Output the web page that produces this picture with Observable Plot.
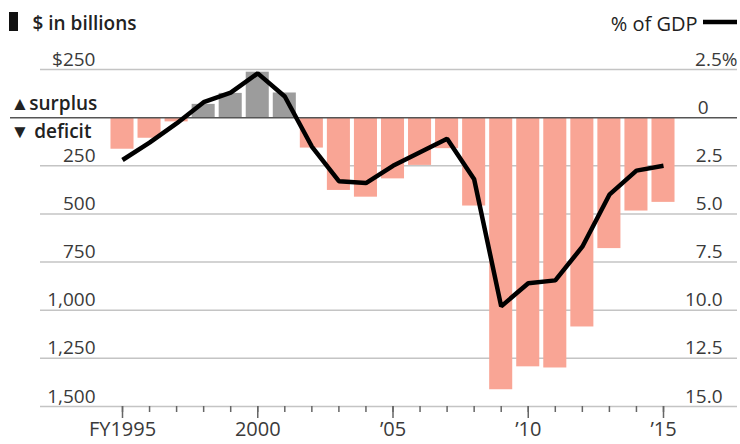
<!DOCTYPE html>
<html><head><meta charset="utf-8">
<script src="https://cdn.jsdelivr.net/npm/d3@7"></script>
<script src="https://cdn.jsdelivr.net/npm/@observablehq/plot@0.6"></script>
<style>
body{margin:0;background:#fff;}
#chart svg{display:block;font-family:"Open Sans",sans-serif;}
</style>
</head><body><div id="chart"></div>
<script>
// Fiscal years
const years = [1995,1996,1997,1998,1999,2000,2001,2002,2003,2004,2005,2006,2007,2008,2009,2010,2011,2012,2013,2014,2015];
// Budget balance, $ billions (positive = surplus)
const balance = [-164,-107,-22,69,126,236,128,-158,-378,-413,-318,-248,-161,-459,-1413,-1294,-1300,-1087,-680,-485,-440];
// Budget balance, % of GDP
const pctGDP = [-2.2,-1.3,-0.3,0.8,1.3,2.3,1.1,-1.5,-3.3,-3.4,-2.5,-1.8,-1.1,-3.2,-9.8,-8.6,-8.45,-6.7,-4.0,-2.75,-2.5];

// Axis ticks and labels
const yTicks = [250,0,-250,-500,-750,-1000,-1250,-1500];
const leftLabels = ["$250","","250","500","750","1,000","1,250","1,500"];
const rightLabels = ["2.5%","0","2.5","5.0","7.5","10.0","12.5","15.0"];
const xMajor = [1995,2000,2005,2010,2015];
const xLabels = ["FY1995","2000","\u201905","\u201910","\u201915"];

const data = years.map((y,i)=>({year:y, balance:balance[i], pct:pctGDP[i]}));
const xLabelMap = new Map(xMajor.map((d,i)=>[d,xLabels[i]]));

const textColor = "#3a3a3a";

const chart = Plot.plot({
  width: 740,
  height: 444,
  marginLeft: 122,
  marginRight: 77,
  marginTop: 69,
  marginBottom: 38,
  style: {background:"#fff", fontFamily:"'Open Sans', sans-serif", overflow:"visible"},
  x: {domain:[1995,2015], label:null},
  y: {domain:[-1500,250], axis:null, label:null},
  marks: [
    // gridlines
    Plot.ruleY(yTicks.filter(d=>d!==0), {y:d=>d, stroke:"#c4c4c4", strokeWidth:1.5, insetLeft:-82, insetRight:-74}),
    // bars
    Plot.rectY(data, {
      x1: d=>d.year-0.5, x2: d=>d.year+0.5, y1: 0, y2: "balance",
      fill: d=> d.balance>0 ? "#9c9c9c" : "#f9a595",
      insetLeft: 2, insetRight: 2
    }),
    // zero line
    Plot.ruleY([0], {stroke:"#555", strokeWidth:1.5, insetLeft:-112, insetRight:-74}),
    // % of GDP line (same pixel scale: 1% = 100)
    Plot.line(data, {x:"year", y:d=>d.pct*100, stroke:"#000", strokeWidth:4.5, strokeLinejoin:"miter", strokeLinecap:"butt"}),
    // x ticks
    Plot.axisX({ticks: years, tickSize: 6, tickFormat: ()=>"", label:null, stroke:"#666", strokeWidth:1.5}),
    Plot.axisX({ticks: xMajor, tickSize: 12, tickPadding: 3, label:null, tickFormat: d=>xLabelMap.get(d), stroke:"#666", strokeWidth:1.5, fill:textColor, fontSize:20}),
    // left labels
    Plot.text(yTicks, {y:d=>d, text:(d,i)=>leftLabels[i], frameAnchor:"left", textAnchor:"end", lineAnchor:"bottom", dx:-27, dy:-4, fontSize:19, fill:textColor}),
    // right labels
    Plot.text(yTicks, {filter:(d,i)=>i>=2, y:d=>d, text:(d,i)=>rightLabels[i], frameAnchor:"right", textAnchor:"end", lineAnchor:"bottom", dx:59, dy:-4, fontSize:19, fill:textColor}),
    Plot.text([yTicks[0]], {y:d=>d, text:[rightLabels[0]], frameAnchor:"right", textAnchor:"end", lineAnchor:"bottom", dx:74, dy:-4, fontSize:19, fill:textColor}),
    Plot.text([yTicks[1]], {y:d=>d, text:[rightLabels[1]], frameAnchor:"right", textAnchor:"end", lineAnchor:"bottom", dx:45, dy:-4, fontSize:19, fill:textColor}),
    // surplus / deficit
    Plot.text([0], {y:d=>d, text:["\u25B2surplus"], frameAnchor:"left", textAnchor:"start", lineAnchor:"bottom", dx:-112, dy:-8, fontSize:19, fontWeight:600, fill:"#222"}),
    Plot.text([0], {y:d=>d, text:["\u25BC deficit"], frameAnchor:"left", textAnchor:"start", lineAnchor:"bottom", dx:-112, dy:20, fontSize:19, fontWeight:600, fill:"#222"}),
    // headers
    Plot.text(["$ in billions"], {text:d=>d, frameAnchor:"top-left", textAnchor:"start", lineAnchor:"bottom", dx:-90, dy:-40, fontSize:19, fontWeight:600, fill:"#222"}),
    Plot.text(["% of GDP"], {text:d=>d, frameAnchor:"top-right", textAnchor:"end", lineAnchor:"bottom", dx:34, dy:-39, fontSize:20, fill:"#222"})
  ]
});

// legend swatches
const svg = d3.select(chart);
svg.append("rect").attr("x",9).attr("y",12).attr("width",9).attr("height",19).attr("fill","#111");
svg.append("line").attr("x1",703).attr("x2",737).attr("y1",22).attr("y2",22).attr("stroke","#000").attr("stroke-width",4.5);

document.getElementById("chart").appendChild(chart);
</script>
</body></html>
